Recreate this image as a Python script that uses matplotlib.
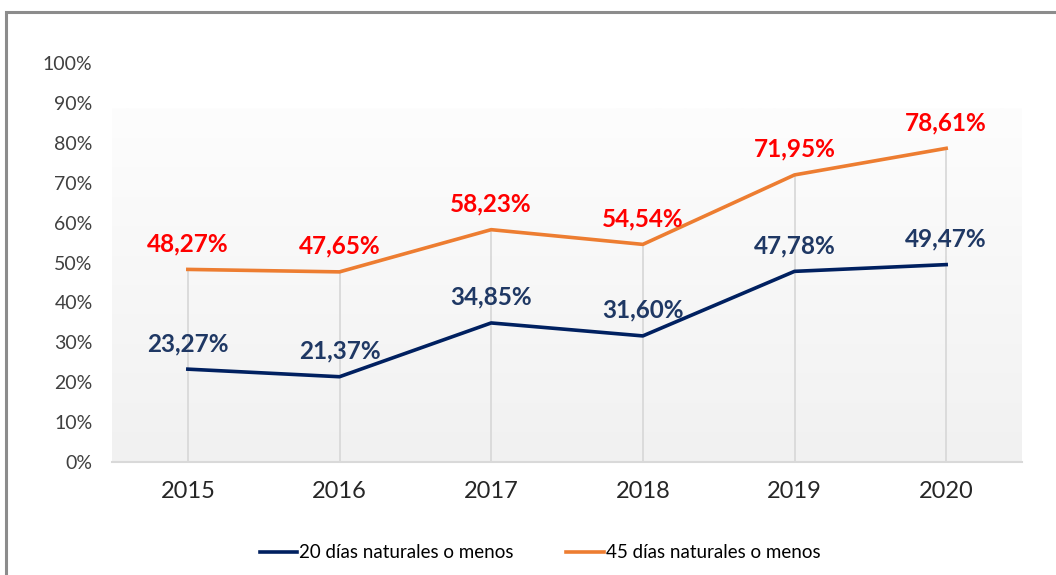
import numpy as np
import matplotlib.pyplot as plt
from matplotlib.patches import Rectangle
from matplotlib.colors import LinearSegmentedColormap

years = ['2015', '2016', '2017', '2018', '2019', '2020']
dias_20 = [23.27, 21.37, 34.85, 31.60, 47.78, 49.47]
dias_45 = [48.27, 47.65, 58.23, 54.54, 71.95, 78.61]
label_20 = '20 días naturales o menos'
label_45 = '45 días naturales o menos'

navy = '#002060'
orange = '#ed7d31'
red = '#ff0000'

plt.rcParams['font.family'] = ['Lato', 'DejaVu Sans']

fig = plt.figure(figsize=(10.56, 5.75), dpi=100)
# outer frame
fig.patches.append(Rectangle((6/1056, -0.02), 1.1, 1 - 12/575 + 0.02,
                             transform=fig.transFigure, fill=False,
                             edgecolor='#8c8c8c', linewidth=2.2))

ax = fig.add_axes([112/1056, 1 - 462/575, (1022 - 112)/1056, (462 - 63)/575])
x = np.arange(len(years))

# gradient background white -> light gray (starts a bit below the top)
grad = np.linspace(0, 1, 256).reshape(-1, 1)
ax.imshow(grad, extent=[-0.5, 5.5, 0, 88.7], aspect='auto', origin='upper',
          cmap=LinearSegmentedColormap.from_list('g', ['#fdfdfd', '#f1f1f1']),
          zorder=0)

# drop lines from the upper series down to the axis
ax.vlines(x, 0, dias_45, color='#d9d9d9', linewidth=1.3, zorder=1)

l1, = ax.plot(x, dias_20, color=navy, linewidth=2.6, zorder=3, label=label_20)
l2, = ax.plot(x, dias_45, color=orange, linewidth=2.6, zorder=3, label=label_45)

for xi, v in zip(x, dias_20):
    ax.annotate(f'{v:.2f}%'.replace('.', ','), (xi, v), xytext=(0, 18.5),
                textcoords='offset points', ha='center', va='center',
                color='#1f3864', fontsize=17.5, fontweight='bold', zorder=4)
for xi, v in zip(x, dias_45):
    ax.annotate(f'{v:.2f}%'.replace('.', ','), (xi, v), xytext=(0, 18.5),
                textcoords='offset points', ha='center', va='center',
                color=red, fontsize=17.5, fontweight='bold', zorder=4)

ax.set_xlim(-0.5, 5.5)
ax.set_ylim(0, 100)
ax.set_yticks(np.arange(0, 101, 10))
ax.set_yticklabels([f'{t}%' for t in range(0, 101, 10)], fontsize=14, color='#404040')
ax.set_xticks(x)
ax.set_xticklabels(years, fontsize=17, color='#262626')
ax.tick_params(axis='y', length=0, pad=14)
ax.tick_params(axis='x', length=0, pad=14)
for s in ['top', 'right', 'left']:
    ax.spines[s].set_visible(False)
ax.spines['bottom'].set_color('#d9d9d9')
ax.spines['bottom'].set_linewidth(1.5)

fig.legend(handles=[l1, l2], loc='center', bbox_to_anchor=(540/1056, 1 - 553/575),
           ncol=2, frameon=False, fontsize=13.5, handlelength=2.0, handletextpad=0.1,
           columnspacing=2.8)

fig.savefig('out.png', dpi=100)
